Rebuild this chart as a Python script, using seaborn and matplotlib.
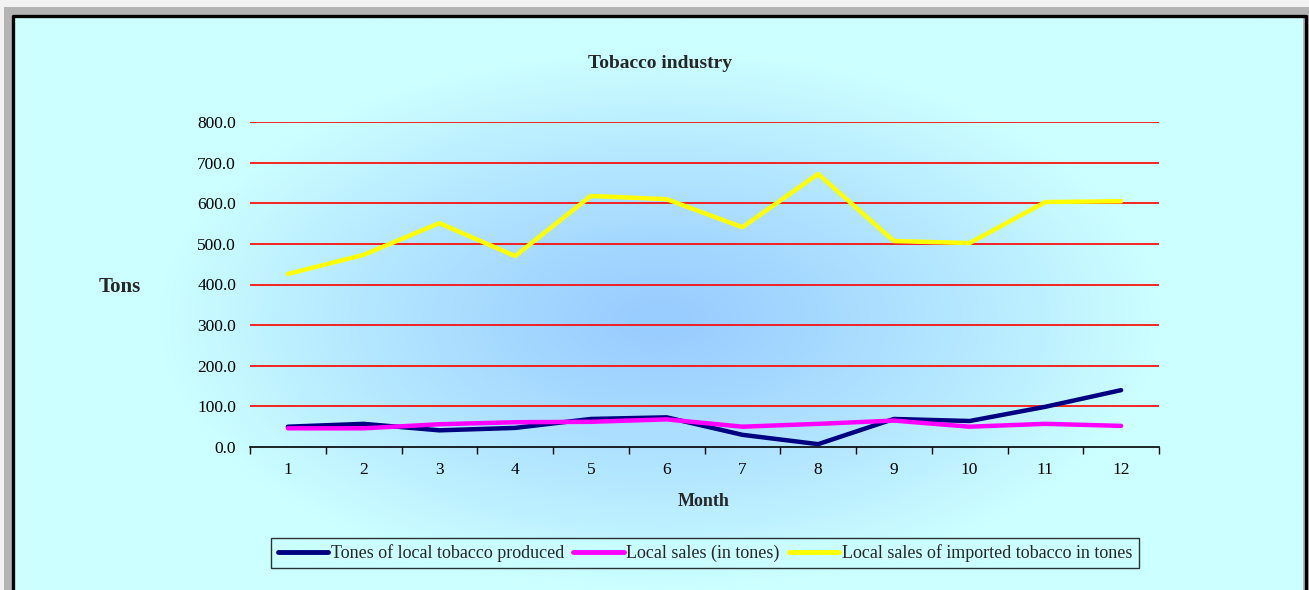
import numpy as np
import pandas as pd
import matplotlib
matplotlib.use("Agg")
import matplotlib.pyplot as plt
import seaborn as sns
from matplotlib.patches import Rectangle

months = list(range(1, 13))
local_produced = [50, 57, 41, 47, 69, 73, 30, 7, 69, 64, 99, 140]
local_sales = [46, 46, 56, 61, 62, 68, 50, 57, 65, 50, 57, 52]
imported_sales = [426, 473, 551, 470, 618, 610, 541, 672, 507, 502, 603, 605]
series_names = ["Tones of local tobacco produced", "Local sales (in tones)",
                "Local sales of imported tobacco in tones"]
series_colors = ["#000080", "#FF00FF", "#FFFF00"]
yticks = [0, 100, 200, 300, 400, 500, 600, 700, 800]

df = pd.DataFrame({
    "Month": months * 3,
    "Tons": local_produced + local_sales + imported_sales,
    "Series": [series_names[0]] * 12 + [series_names[1]] * 12 + [series_names[2]] * 12,
})

sns.set_theme(style="white")
plt.rcParams["font.family"] = ["Liberation Serif", "DejaVu Serif"]

W, H = 1309, 590
fig = plt.figure(figsize=(W / 100, H / 100), dpi=100)
fig.patch.set_facecolor("#F2F2F2")

bg = fig.add_axes([0, 0, 1, 1])
bg.set_xlim(0, W)
bg.set_ylim(H, 0)
bg.axis("off")
bg.add_patch(Rectangle((4, 7), W, H, facecolor="#B4B4B4", edgecolor="none"))
xx, yy = np.meshgrid(np.linspace(0, W, 400), np.linspace(0, H, 200))
r = np.sqrt(((xx - 660) / 500) ** 2 + ((yy - 320) / 270) ** 2)
t = np.clip(r, 0, 1) ** 1.2
c0 = np.array([0x99, 0xCC, 0xFF]) / 255
c1 = np.array([0xCC, 0xFF, 0xFF]) / 255
img = c0[None, None, :] * (1 - t[..., None]) + c1[None, None, :] * t[..., None]
im = bg.imshow(img, extent=[0, W, H, 0], aspect="auto", zorder=1)
clip = Rectangle((13, 16), W - 19, H, transform=bg.transData)
im.set_clip_path(clip)
bg.plot([13, 13, W - 3, W - 3], [H, 16, 16, H], color="black", lw=2.4, zorder=3)

ax = fig.add_axes([250 / W, 1 - 447 / H, (1159 - 250) / W, (447 - 122) / H])
ax.set_facecolor("none")
sns.lineplot(data=df, x="Month", y="Tons", hue="Series", palette=series_colors,
             hue_order=series_names, linewidth=3.2, ax=ax, legend=True, zorder=3)

ax.set_xlim(0.5, 12.5)
ax.set_ylim(0, 800)
ax.set_yticks(yticks)
ax.set_yticklabels([f"{v:.1f}" for v in yticks], fontsize=12.5)
ax.set_xticks(months)
ax.set_xticklabels([str(m) for m in months], fontsize=12.5)
ax.set_xticks(np.arange(0.5, 13, 1), minor=True)
ax.tick_params(axis="x", which="major", length=0, pad=11, colors="black")
ax.tick_params(axis="x", which="minor", length=5, width=1, color="black", direction="out", bottom=True)
ax.tick_params(axis="y", length=0, pad=10, colors="black")
for v in yticks[1:]:
    ax.axhline(v, color="red", lw=1.2, zorder=1)
for s in ["top", "right", "left"]:
    ax.spines[s].set_visible(False)
ax.spines["bottom"].set_color("black")
ax.spines["bottom"].set_linewidth(1.2)
ax.grid(False)
ax.set_xlabel("")
ax.set_ylabel("")

fig.text(660 / W, 1 - 63 / H, "Tobacco industry", ha="center", va="center",
         fontsize=14, fontweight="bold")
fig.text(120 / W, 1 - 287 / H, "Tons", ha="center", va="center",
         fontsize=15, fontweight="bold")
fig.text(704 / W, 1 - 502 / H, "Month", ha="center", va="center",
         fontsize=13, fontweight="bold")

handles, labels = ax.get_legend_handles_labels()
ax.legend_.remove()
leg = fig.legend(handles, labels, loc="center", bbox_to_anchor=(705 / W, 1 - 553 / H),
                 ncol=3, frameon=True, fontsize=13, handlelength=2.8, handletextpad=0.15,
                 columnspacing=0.5, borderpad=0.35, borderaxespad=0, fancybox=False)
leg.get_frame().set_edgecolor("black")
leg.get_frame().set_facecolor("#CCFFFF")
leg.get_frame().set_linewidth(1.0)
for line in leg.get_lines():
    line.set_linewidth(3.5)

fig.savefig("out.png", dpi=100, facecolor=fig.get_facecolor())
